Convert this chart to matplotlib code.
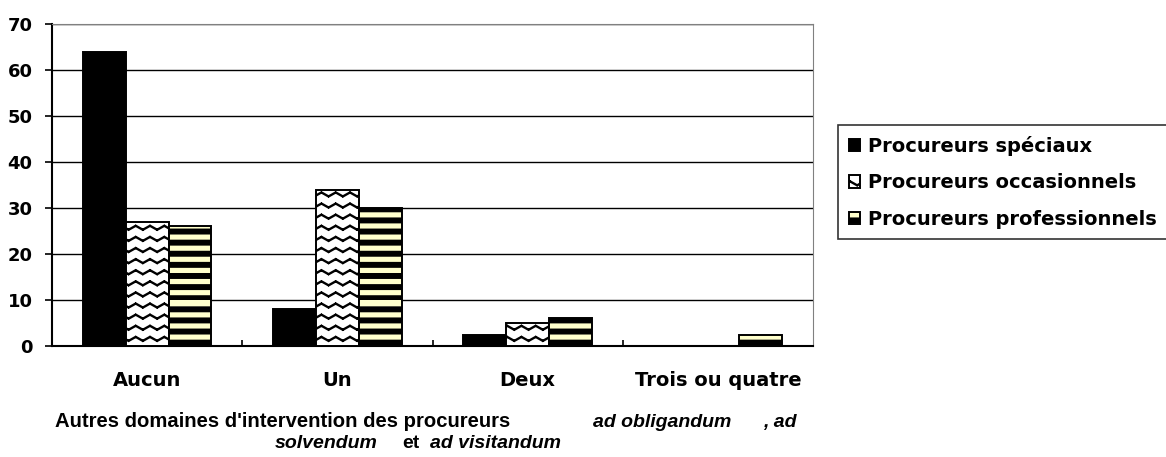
import warnings
warnings.filterwarnings('ignore')
import numpy as np
import matplotlib
matplotlib.use('Agg')
import matplotlib.pyplot as plt
from matplotlib import hatch as mhatch
from matplotlib.path import Path

# ---- data ----
categories = ['Aucun', 'Un', 'Deux', 'Trois ou quatre']
series_names = ['Procureurs spéciaux', 'Procureurs occasionnels', 'Procureurs professionnels']
speciaux = [64, 8, 2.3, 0]
occasionnels = [27, 34, 4.9, 0]
professionnels = [26, 30, 6.1, 2.5]
yticks = [0, 10, 20, 30, 40, 50, 60, 70]


# ---- custom hatch patterns (zigzag and thick horizontal stripes) ----
class ZigZagHatch(mhatch.HatchPatternBase):
    def __init__(self, hatch, density):
        n = hatch.count('z')
        self.rows = 9 * n
        self.cols = 7 * n
        self.num_vertices = self.rows * self.cols * 4

    def set_vertices_and_codes(self, vertices, codes):
        if self.num_vertices == 0:
            return
        a = 0.02
        p = 1.0 / self.cols
        i = 0
        for r in range(self.rows):
            y0 = (r + 0.5) / self.rows
            for c in range(self.cols):
                x0 = c * p
                pts = [((x0, y0 - a), (x0 + p / 2, y0 + a)),
                       ((x0 + p / 2, y0 + a), (x0 + p, y0 - a))]
                for (xa, ya), (xb, yb) in pts:
                    t0, t1 = 0.06, 0.94
                    vertices[i] = (xa + (xb - xa) * t0, ya + (yb - ya) * t0)
                    vertices[i + 1] = (xa + (xb - xa) * t1, ya + (yb - ya) * t1)
                    codes[i] = Path.MOVETO
                    codes[i + 1] = Path.LINETO
                    i += 2


class StripeHatch(mhatch.HatchPatternBase):
    def __init__(self, hatch, density):
        n = hatch.count('s')
        self.rows = 9 * n
        self.num_vertices = self.rows * 5

    def set_vertices_and_codes(self, vertices, codes):
        if self.num_vertices == 0:
            return
        h = 0.036
        for r in range(self.rows):
            y0 = r / self.rows
            k = r * 5
            vertices[k:k + 5] = [(0, y0), (1, y0), (1, y0 + h), (0, y0 + h), (0, y0)]
            codes[k:k + 5] = [Path.MOVETO, Path.LINETO, Path.LINETO, Path.LINETO, Path.CLOSEPOLY]


mhatch._hatch_types.append(ZigZagHatch)
mhatch._hatch_types.append(StripeHatch)
plt.rcParams['hatch.linewidth'] = 1.7
plt.rcParams['hatch.color'] = 'black'
plt.rcParams['font.family'] = ['DejaVu Sans']
plt.rcParams['font.weight'] = 'bold'

W, H = 1166, 457
fig = plt.figure(figsize=(W / 100, H / 100), dpi=100)
ax = fig.add_axes([52 / W, 1 - 346 / H, (813 - 52) / W, (346 - 24) / H])

x = np.arange(len(categories))
bw = 0.225
series = [speciaux, occasionnels, professionnels]
faces = ['black', 'white', '#FFFFCC']
hatches = [None, 'z', 's']
for k, (vals, fc, ht, name) in enumerate(zip(series, faces, hatches, series_names)):
    ax.bar(x + (k - 1) * bw, vals, bw, color=fc, edgecolor='black', linewidth=1.4,
           hatch=ht, label=name, zorder=3)

ax.set_xlim(-0.5, len(categories) - 0.5)
ax.set_ylim(0, 70)
ax.set_yticks(yticks)
ax.yaxis.grid(True, color='black', linewidth=1.0, zorder=0)
ax.set_axisbelow(True)
ax.tick_params(axis='y', direction='out', length=5, width=1.2, pad=9, labelsize=13)
ax.set_xticks(x)
ax.set_xticklabels(categories)
ax.tick_params(axis='x', which='major', length=0, pad=18, labelsize=14)
ax.set_xticks(x[:-1] + 0.5, minor=True)
ax.tick_params(axis='x', which='minor', direction='in', length=4, width=1.2)
for t in ax.get_xticklabels() + ax.get_yticklabels():
    t.set_fontweight('bold')

ax.spines['left'].set_linewidth(1.5)
ax.spines['bottom'].set_linewidth(1.5)
ax.spines['top'].set_color('#808080')
ax.spines['right'].set_color('#808080')

leg = fig.legend(loc='upper left', bbox_to_anchor=(838 / W, 1 - 125 / H),
                 frameon=True, fancybox=False, shadow=False, borderaxespad=0,
                 prop={'size': 14, 'weight': 'bold'}, handlelength=0.6,
                 handleheight=0.6, handletextpad=0.4, labelspacing=0.9,
                 borderpad=0.55)
leg.get_frame().set_edgecolor('black')
leg.get_frame().set_linewidth(1.2)

# ---- axis title with mixed upright / italic pieces ----
def put(xpx, ypx, s, style='normal', fs=14):
    fig.text(xpx / W, 1 - ypx / H, s, ha='left', va='baseline', fontsize=fs,
             fontweight='bold', fontstyle=style, family='Liberation Sans')

put(55, 427, "Autres domaines d'intervention des procureurs", fs=14.6)
put(593, 427, "ad obligandum", 'italic')
put(763, 427, ", ad", 'italic')
put(275, 448, "solvendum", 'italic')
put(402, 448, "et")
put(430, 448, "ad visitandum", 'italic')

fig.savefig('out.png', dpi=100)
